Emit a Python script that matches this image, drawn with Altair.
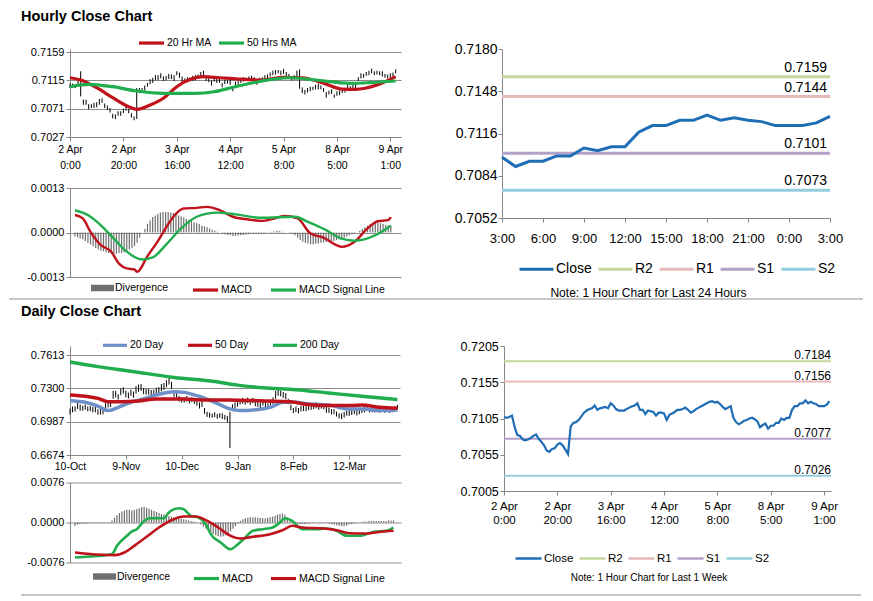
import altair as alt
import pandas as pd

FONT = "Liberation Sans"
GRID = "#8c8c8c"
AX = "#868686"
RED = "#c0121a"
GREEN = "#20ad4e"
BLUE20 = "#6c90c7"
CLOSE_BLUE = "#1f6db5"
DIV_GRAY = "#6e6e6e"
LEVEL_COLORS = ["#c3d69b", "#e6b9b8", "#b3a2c7", "#93cddd"]
FMT = "replace(format(datum.value, '.4f'), '\u2212', '-')"
RECT = "M-1,-0.28L1,-0.28L1,0.28L-1,0.28Z"

# ---------------- hourly data: 2 Apr 0:00 .. 9 Apr 3:00 ----------------
hourly_close = [
    0.7107, 0.7106, 0.7107, 0.7109, 0.7093, 0.7082, 0.7081, 0.7076, 0.7075, 0.7076,
    0.7078, 0.7081, 0.7083, 0.7077, 0.7073, 0.7068, 0.7061, 0.7059, 0.7063, 0.7064,
    0.7069, 0.7071, 0.7068, 0.7062, 0.7056, 0.7094, 0.7099, 0.7100, 0.7103, 0.7108,
    0.7113, 0.7116, 0.7118, 0.7119, 0.7123, 0.7117, 0.7119, 0.7120, 0.7121, 0.7119,
    0.7126, 0.7123, 0.7118, 0.7116, 0.7116, 0.7116, 0.7118, 0.7120, 0.7122, 0.7123,
    0.7126, 0.7117, 0.7117, 0.7111, 0.7116, 0.7115, 0.7114, 0.7109, 0.7113, 0.7113,
    0.7112, 0.7103, 0.7110, 0.7112, 0.7114, 0.7117, 0.7117, 0.7118, 0.7120, 0.7117,
    0.7113, 0.7115, 0.7118, 0.7120, 0.7122, 0.7124, 0.7126, 0.7128, 0.7129, 0.7127,
    0.7128, 0.7125, 0.7121, 0.7118, 0.7120, 0.7122, 0.7106, 0.7100, 0.7097, 0.7099,
    0.7102, 0.7103, 0.7105, 0.7106, 0.7104, 0.7101, 0.7093, 0.7096, 0.7098, 0.7091,
    0.7095, 0.7095, 0.7099, 0.7099, 0.7105, 0.7103, 0.7106, 0.7106, 0.7117, 0.7122,
    0.7122, 0.7126, 0.7126, 0.7130, 0.7126, 0.7128, 0.7126, 0.7125, 0.7122, 0.7122,
    0.7122, 0.7124, 0.7129]
hourly_hi_pips = [
    3, 4, 2, 5, 36, 3, 4, 2, 3, 4,
    3, 5, 4, 2, 3, 4, 2, 3, 4, 3,
    2, 4, 3, 2, 3, 9, 4, 3, 4, 3,
    4, 3, 5, 4, 3, 4, 3, 5, 3, 4,
    3, 4, 3, 2, 4, 3, 4, 3, 2, 5,
    4, 3, 2, 4, 3, 3, 4, 2, 3, 2,
    4, 3, 3, 2, 4, 3, 2, 3, 2, 3,
    3, 4, 2, 3, 2, 3, 4, 3, 2, 3,
    5, 3, 4, 2, 3, 8, 26, 4, 3, 4,
    3, 2, 3, 4, 3, 2, 4, 3, 3, 2,
    3, 4, 3, 2, 4, 3, 4, 5, 3, 4,
    3, 2, 4, 3, 3, 2, 3, 4, 3, 2,
    4, 3, 3]
hourly_lo_pips = [
    4, 3, 4, 3, 3, 5, 4, 6, 3, 4,
    5, 4, 3, 5, 4, 3, 5, 4, 3, 4,
    5, 3, 4, 5, 3, 39, 4, 3, 4, 3,
    4, 5, 3, 4, 5, 3, 4, 3, 4, 5,
    3, 4, 5, 3, 4, 3, 4, 5, 3, 4,
    4, 3, 5, 4, 3, 4, 3, 5, 4, 3,
    4, 5, 3, 4, 3, 4, 3, 4, 3, 4,
    5, 3, 4, 3, 4, 3, 3, 4, 3, 4,
    3, 5, 4, 3, 4, 3, 4, 5, 4, 3,
    4, 3, 4, 5, 3, 4, 5, 3, 4, 3,
    4, 3, 4, 3, 5, 4, 3, 4, 3, 4,
    3, 4, 3, 4, 3, 4, 3, 4, 3, 4,
    3, 4, 3]
hourly_tick_pos = [0, 20, 40, 60, 80, 100, 120]
hourly_tick_labels = ["2 Apr|0:00", "2 Apr|20:00", "3 Apr|16:00", "4 Apr|12:00",
                      "5 Apr|8:00", "8 Apr|5:00", "9 Apr|1:00"]

ma20h_idx = [0, 4, 10, 16, 22, 25, 30, 35, 40, 45, 50, 56, 63, 72, 80, 87, 95, 102, 107, 115, 122]
ma20h_val = [0.7119, 0.71155, 0.71036, 0.7088, 0.7074, 0.7070, 0.70767, 0.70871, 0.71051, 0.71166,
             0.71207, 0.7119, 0.7117, 0.71155, 0.71197, 0.7119, 0.71104, 0.71015, 0.7101, 0.71077, 0.71207]
ma50h_idx = [0, 7, 16, 25, 35, 47, 54, 62, 72, 82, 92, 105, 112, 122]
ma50h_val = [0.71051, 0.71088, 0.71051, 0.70984, 0.70949, 0.70949, 0.70973, 0.71051, 0.7114,
             0.7119, 0.71155, 0.71104, 0.71113, 0.7114]

macdh_idx = [0, 3, 6, 10, 14, 17, 20, 23, 24, 28, 32, 35, 38, 42, 47, 51, 56, 61, 67, 72,
             77, 81, 86, 91, 96, 101, 103, 108, 113, 117, 121, 122]
macdh_val = [0.00051, 0.00041, 0.00002, -0.00037, -0.00056, -0.00091, -0.00105, -0.00108, -0.00115,
             -0.00069, -0.00025, 0.00012, 0.00046, 0.0007, 0.00072, 0.00075, 0.00065, 0.00046,
             0.00038, 0.00034, 0.00041, 0.00048, 0.00041, -0.00003, -0.00015, -0.00037, -0.00042,
             -0.00027, 0.00012, 0.00033, 0.00036, 0.00045]
sigh_idx = [0, 5, 10, 15, 20, 26, 30, 35, 41, 47, 55, 62, 72, 85, 90, 97, 103, 108, 116, 122]
sigh_val = [0.00065, 0.00051, 0.00021, -0.00018, -0.00056, -0.00079, -0.00073, -0.00037, 0.00012,
            0.00046, 0.00058, 0.00053, 0.00043, 0.00046, 0.00031, 0.00007, -0.00018, -0.00024,
            -0.00008, 0.0002]
div_hourly = [
    -0.00012, -0.00014, -0.00017, -0.0002, -0.00025, -0.0003, -0.00035, -0.0004, -0.00045, -0.0005,
    -0.00053, -0.00055, -0.00058, -0.0006, -0.0006, -0.00062, -0.00062, -0.0006, -0.0006, -0.00058,
    -0.00055, -0.0005, -0.00045, -0.0004, -0.0003, -0.00015, 0.0, 0.0001, 0.00025, 0.00035,
    0.00045, 0.0005, 0.00055, 0.00058, 0.0006, 0.0006, 0.0006, 0.00058, 0.00057, 0.00055,
    0.0005, 0.00047, 0.00044, 0.0004, 0.00037, 0.00035, 0.0003, 0.00028, 0.00025, 0.0002,
    0.00018, 0.00015, 0.00012, 0.00008, 0.00005, 0.00002, 0.0, -0.00003, -0.00005, -0.00007,
    -0.00008, -0.0001, -0.0001, -0.00009, -0.00008, -0.00007, -0.00006, -0.00005, -0.00004, -0.00004,
    -0.00003, -0.00004, -0.00003, -0.00002, -0.00001, 0.00001, 0.00002, 0.00003, 0.00005, 0.00004,
    0.00002, 0.00001, 0.0, -0.00002, -0.00004, -0.00008, -0.00015, -0.00022, -0.00027, -0.0003,
    -0.00032, -0.00034, -0.00034, -0.00033, -0.00032, -0.0003, -0.00029, -0.00028, -0.00027, -0.00026,
    -0.00025, -0.00022, -0.0002, -0.00018, -0.00015, -0.00012, -0.00008, -0.00005, -0.00002, 0.0,
    0.00005, 0.0001, 0.00015, 0.0002, 0.00024, 0.00027, 0.00028, 0.00028, 0.00027, 0.00025,
    0.00023, 0.00021, 0.0002]

# ---------------- pivot levels ----------------
level_names = ["R2", "R1", "S1", "S2"]
levels_24h = [0.7159, 0.7144, 0.7101, 0.7073]
levels_week = [0.7184, 0.7156, 0.7077, 0.7026]
last24_tick_pos = [0, 3, 6, 9, 12, 15, 18, 21, 24]
last24_tick_labels = ["3:00", "6:00", "9:00", "12:00", "15:00", "18:00", "21:00", "0:00", "3:00"]

# ---------------- daily data: 10 Oct .. 9 Apr ----------------
daily_close = [
    0.7085, 0.7100, 0.7110, 0.7128, 0.7120, 0.7115, 0.7118, 0.7112, 0.7108, 0.7105,
    0.7100, 0.7082, 0.7075, 0.7085, 0.7120, 0.7150, 0.7160, 0.7230, 0.7245, 0.7220,
    0.7265, 0.7280, 0.7250, 0.7235, 0.7255, 0.7240, 0.7280, 0.7300, 0.7310, 0.7275,
    0.7265, 0.7270, 0.7250, 0.7260, 0.7275, 0.7280, 0.7300, 0.7320, 0.7340, 0.7375,
    0.7330, 0.7250, 0.7230, 0.7200, 0.7195, 0.7190, 0.7200, 0.7185, 0.7190, 0.7180,
    0.7165, 0.7140, 0.7150, 0.7090, 0.7060, 0.7050, 0.7045, 0.7050, 0.7040, 0.7045,
    0.7040, 0.7030, 0.7010, 0.7020, 0.7120, 0.7140, 0.7155, 0.7170, 0.7180, 0.7175,
    0.7185, 0.7170, 0.7180, 0.7160, 0.7150, 0.7145, 0.7160, 0.7150, 0.7130, 0.7160,
    0.7175, 0.7230, 0.7260, 0.7250, 0.7240, 0.7225, 0.7180, 0.7120, 0.7095, 0.7100,
    0.7090, 0.7105, 0.7115, 0.7110, 0.7125, 0.7120, 0.7130, 0.7140, 0.7120, 0.7135,
    0.7130, 0.7100, 0.7095, 0.7085, 0.7080, 0.7060, 0.7045, 0.7040, 0.7050, 0.7065,
    0.7070, 0.7075, 0.7080, 0.7070, 0.7085, 0.7090, 0.7100, 0.7110, 0.7095, 0.7100,
    0.7095, 0.7100, 0.7090, 0.7100, 0.7095, 0.7105, 0.7090, 0.7100, 0.7110, 0.7125]
daily_hi_pips = [
    25, 30, 20, 35, 28, 22, 30, 18, 25, 20,
    28, 22, 30, 26, 40, 35, 30, 45, 30, 25,
    35, 30, 28, 25, 32, 30, 40, 35, 30, 28,
    30, 25, 35, 28, 30, 32, 40, 30, 35, 45,
    30, 28, 25, 30, 22, 25, 28, 20, 25, 30,
    22, 28, 30, 25, 20, 22, 18, 25, 20, 22,
    25, 20, 30, 60, 30, 28, 32, 25, 30, 22,
    28, 25, 30, 22, 25, 20, 28, 25, 30, 35,
    40, 45, 30, 28, 25, 30, 22, 25, 20, 28,
    25, 30, 22, 28, 25, 30, 35, 28, 30, 25,
    22, 28, 25, 20, 25, 22, 20, 25, 28, 22,
    25, 20, 28, 25, 30, 22, 28, 25, 20, 22,
    25, 22, 28, 20, 25, 22, 20, 25, 22, 20]
daily_lo_pips = [
    30, 25, 28, 22, 30, 25, 20, 28, 22, 30,
    25, 30, 22, 28, 25, 30, 35, 28, 30, 25,
    30, 28, 35, 30, 25, 28, 30, 32, 35, 30,
    25, 30, 28, 32, 25, 30, 28, 35, 30, 40,
    35, 30, 28, 25, 30, 22, 25, 28, 20, 25,
    28, 30, 25, 30, 28, 25, 22, 20, 25, 22,
    28, 25, 30, 280, 25, 30, 28, 22, 25, 28,
    22, 25, 20, 28, 25, 30, 22, 28, 25, 20,
    25, 28, 30, 25, 30, 28, 30, 25, 28, 22,
    25, 22, 28, 25, 30, 22, 25, 28, 22, 25,
    28, 30, 25, 28, 22, 25, 28, 30, 25, 22,
    28, 25, 22, 25, 28, 22, 25, 20, 22, 25,
    22, 25, 20, 22, 25, 20, 22, 25, 20, 22]
daily_tick_pos = [0, 22, 44, 66, 88, 110]
daily_tick_labels = ["10-Oct", "9-Nov", "10-Dec", "9-Jan", "8-Feb", "12-Mar"]

ma20d_idx = [0, 6, 11, 15, 19, 24, 29, 34, 41, 45, 50, 57, 63, 67, 74, 79, 84, 89, 94, 102, 109, 115, 123, 129]
ma20d_val = [0.7184, 0.7169, 0.7132, 0.7091, 0.7122, 0.7169, 0.7200, 0.7237, 0.7268, 0.7262, 0.7231,
             0.7169, 0.7107, 0.7091, 0.7101, 0.7122, 0.7169, 0.7169, 0.7153, 0.7144, 0.7107, 0.7107,
             0.7091, 0.7097]
ma50d_idx = [0, 6, 11, 15, 20, 27, 34, 44, 53, 63, 74, 81, 87, 92, 102, 111, 115, 122, 129]
ma50d_val = [0.7237, 0.7225, 0.7206, 0.7175, 0.7175, 0.7181, 0.7200, 0.7200, 0.7191, 0.7191, 0.7184,
             0.7178, 0.7175, 0.7153, 0.7138, 0.7138, 0.7144, 0.7122, 0.7113]
ma200d_idx = [0, 11, 24, 41, 57, 66, 76, 89, 102, 115, 129]
ma200d_val = [0.7548, 0.7504, 0.7461, 0.7402, 0.7365, 0.7330, 0.7306, 0.7287, 0.7256, 0.7225, 0.7194]

macdd_idx = [0, 6, 11, 15, 17, 21, 23, 25, 28, 30, 36, 38, 42, 44, 47, 50, 53, 55, 59, 63,
             66, 69, 72, 76, 80, 83, 85, 88, 92, 97, 102, 106, 110, 115, 121, 126, 129]
macdd_val = [-0.00665, -0.00646, -0.0063, -0.006, -0.00443, -0.00253, -0.00171, -0.00127, 0.0003, 0.00082,
             0.00082, 0.0019, 0.00272, 0.00253, 0.00127, 0.00095, -0.00032, -0.00222, -0.0038, -0.00507,
             -0.00412, -0.00285, -0.00158, -0.00127, -0.00095, 0.0, 0.00082, 0.00032, -0.00127, -0.00127,
             -0.00114, -0.00158, -0.00253, -0.00253, -0.00177, -0.00158, -0.00095]
sigd_idx = [0, 6, 11, 16, 20, 24, 29, 34, 40, 44, 49, 53, 58, 63, 67, 72, 79, 84, 88, 92,
            101, 106, 111, 118, 124, 129]
sigd_val = [-0.0057, -0.006, -0.00614, -0.0062, -0.0057, -0.00443, -0.00272, -0.00095, 0.00063, 0.00114,
            0.00114, 0.00044, -0.00095, -0.00253, -0.00304, -0.00272, -0.00222, -0.00146, -0.00063, -0.00095,
            -0.00114, -0.00146, -0.00203, -0.00209, -0.00177, -0.00158]
div_daily = [
    -0.0006, -0.0004, -0.0003, -0.0002, -0.0002, -0.00015, -0.0001, -0.0001, -0.0001, -0.0001,
    -0.0001, -0.0001, -0.00008, -0.00005, 0.0001, 0.0004, 0.0009, 0.0014, 0.0018, 0.0021,
    0.0023, 0.0024, 0.0024, 0.0023, 0.0024, 0.0025, 0.0027, 0.0029, 0.003, 0.0028,
    0.0026, 0.0024, 0.0022, 0.002, 0.0018, 0.0016, 0.0015, 0.0013, 0.0012, 0.0011,
    0.001, 0.0009, 0.0008, 0.0007, 0.0006, 0.0005, 0.0004, 0.0003, 0.0002, 0.0001,
    0.0, -0.0004, -0.0008, -0.0012, -0.0016, -0.0019, -0.0022, -0.0024, -0.0026, -0.0027,
    -0.0026, -0.0024, -0.0021, -0.0017, -0.0012, -0.0007, -0.0002, 0.0003, 0.0006, 0.0008,
    0.0009, 0.001, 0.001, 0.001, 0.0009, 0.0009, 0.0008, 0.0008, 0.0009, 0.001,
    0.0011, 0.0013, 0.0015, 0.0016, 0.0017, 0.0015, 0.001, 0.0005, 0.0002, -0.0001,
    -0.0002, -0.0003, -0.0003, -0.0003, -0.0002, -0.0002, -0.0001, -0.0001, 0.0, 0.0001,
    0.0001, 0.0, -0.0001, -0.0002, -0.0003, -0.0004, -0.0005, -0.0006, -0.0007, -0.0007,
    -0.0006, -0.0004, -0.0003, -0.0002, -0.0001, 0.0, 0.0001, 0.0002, 0.0002, 0.0003,
    0.0003, 0.0003, 0.0003, 0.0003, 0.0003, 0.0003, 0.0003, 0.0004, 0.0004, 0.0004]

assert len(hourly_close) == len(hourly_hi_pips) == len(hourly_lo_pips) == len(div_hourly)
assert len(daily_close) == len(daily_hi_pips) == len(daily_lo_pips) == len(div_daily)
assert len(ma20h_idx) == len(ma20h_val) and len(ma50h_idx) == len(ma50h_val)
assert len(macdh_idx) == len(macdh_val) and len(sigh_idx) == len(sigh_val)
assert len(ma20d_idx) == len(ma20d_val) and len(ma50d_idx) == len(ma50d_val) and len(ma200d_idx) == len(ma200d_val)
assert len(macdd_idx) == len(macdd_val) and len(sigd_idx) == len(sigd_val)


# ---------------- helpers ----------------
def lab_expr(pos, labels):
    s = ""
    for p, l in zip(pos, labels):
        parts = l.split("|")
        if len(parts) == 1:
            v = "'" + parts[0] + "'"
        else:
            v = "[" + ",".join("'" + t + "'" for t in parts) + "]"
        s += "datum.value == %s ? %s : " % (p, v)
    return s + "''"


def y_axis(values, fs, pad, tick=4, grid=False, extent=None):
    kw = dict(values=values, title=None, grid=grid, gridColor=GRID, gridWidth=1, gridOpacity=1,
              domain=True, domainColor=AX, domainWidth=1, ticks=True, tickColor=AX, tickSize=tick,
              tickWidth=1, labelFont=FONT, labelFontSize=fs, labelColor="#000000", labelPadding=pad,
              labelExpr=FMT, labelOverlap=False, labelFlush=False)
    if extent is not None:
        kw["minExtent"] = extent
        kw["maxExtent"] = extent
    return alt.Axis(**kw)


def x_axis(values, labels, fs, pad, line_h, tick=4, **extra):
    kw = dict(values=values, labelExpr=lab_expr(values, labels), title=None, grid=False,
              domainColor=AX, domainWidth=1, tickColor=AX, tickSize=tick, tickWidth=1,
              labelFont=FONT, labelFontSize=fs, labelColor="#000000", labelPadding=pad,
              labelLineHeight=line_h, labelOverlap=False, labelFlush=False)
    kw.update(extra)
    return alt.Axis(**kw)


def line_legend(x, y, sym_w, fs, colpad, sw=3.2, loff=1):
    return alt.Legend(orient="none", legendX=x, legendY=y, direction="horizontal", title=None,
                      symbolType="stroke", symbolSize=sym_w * sym_w, symbolStrokeWidth=sw,
                      labelFont=FONT, labelFontSize=fs, labelColor="#000000", labelOffset=loff,
                      columnPadding=colpad, padding=0, rowPadding=0)


def rect_legend(x, y, fs):
    return alt.Legend(orient="none", legendX=x, legendY=y, direction="horizontal", title=None,
                      symbolType=RECT, symbolSize=529, symbolStrokeWidth=0,
                      labelFont=FONT, labelFontSize=fs, labelColor="#000000", labelOffset=1,
                      padding=0)


def long_df(pairs):
    rows = []
    for name, idx, vals in pairs:
        for i, v in zip(idx, vals):
            rows.append({"i": i, "v": v, "s": name})
    return pd.DataFrame(rows)


# ---------------- data frames ----------------
hr_bars = pd.DataFrame({
    "i": list(range(len(hourly_close))),
    "lo": [round(c - l / 10000, 5) for c, l in zip(hourly_close, hourly_lo_pips)],
    "hi": [round(c + h / 10000, 5) for c, h in zip(hourly_close, hourly_hi_pips)],
})
hr_ma = long_df([("20 Hr MA", ma20h_idx, ma20h_val), ("50 Hrs MA", ma50h_idx, ma50h_val)])
hr_macd = long_df([("MACD", macdh_idx, macdh_val), ("MACD Signal Line", sigh_idx, sigh_val)])
hr_div = pd.DataFrame({"i": list(range(len(div_hourly))), "v": div_hourly, "s": "Divergence"})

last24 = hourly_close[-25:]
d24 = pd.DataFrame({"i": list(range(25)), "v": last24, "s": "Close"})
WEEK_XMAX = 122.6
lv24 = pd.DataFrame({"s": level_names, "v": levels_24h, "lab": ["%.4f" % v for v in levels_24h], "i": 24})
dwk = pd.DataFrame({"i": list(range(len(hourly_close))), "v": hourly_close, "s": "Close"})
lvwk = pd.DataFrame({"s": level_names, "v": levels_week, "lab": ["%.4f" % v for v in levels_week], "i": WEEK_XMAX})

d_bars = pd.DataFrame({
    "i": list(range(len(daily_close))),
    "lo": [round(c - l / 10000, 5) for c, l in zip(daily_close, daily_lo_pips)],
    "hi": [round(c + h / 10000, 5) for c, h in zip(daily_close, daily_hi_pips)],
})
d_ma = long_df([("20 Day", ma20d_idx, ma20d_val), ("50 Day", ma50d_idx, ma50d_val),
                ("200 Day", ma200d_idx, ma200d_val)])
d_macd = long_df([("MACD", macdd_idx, macdd_val), ("MACD Signal Line", sigd_idx, sigd_val)])
d_div = pd.DataFrame({"i": list(range(len(div_daily))), "v": div_daily, "s": "Divergence"})

# ---------------- hourly price chart ----------------
hr_xs = alt.Scale(domain=[0, 124], nice=False, zero=False)
p1_ys = alt.Scale(domain=[0.7027, 0.7159 + 3 / 6439], nice=False, zero=False)
p1_xax = x_axis(hourly_tick_pos, hourly_tick_labels, 10.5, 3.5, 15.5)
p1_yax = y_axis([0.7027, 0.7071, 0.7115, 0.7159], 11, 2, grid=True, extent=49)

price1 = alt.layer(
    alt.Chart(hr_bars).mark_rule(color="black", strokeWidth=1).encode(
        x=alt.X("i:Q", scale=hr_xs, axis=p1_xax),
        y=alt.Y("lo:Q", scale=p1_ys, axis=p1_yax), y2="hi:Q"),
    alt.Chart(hr_ma).mark_line(strokeWidth=3.2, interpolate="monotone").encode(
        x=alt.X("i:Q", scale=hr_xs, axis=p1_xax),
        y=alt.Y("v:Q", scale=p1_ys, axis=p1_yax),
        color=alt.Color("s:N", scale=alt.Scale(domain=["20 Hr MA", "50 Hrs MA"], range=[RED, GREEN]),
                        legend=line_legend(67, -20.5, 25, 10.5, 0))),
).properties(width=331, height=88)

m1_ys = alt.Scale(domain=[-0.0013, 0.0013], nice=False, zero=False)
m1_yax = y_axis([-0.0013, 0.0, 0.0013], 11, 2, grid=True, extent=49)
macd1 = alt.layer(
    alt.Chart(hr_div).mark_bar(size=1.2).encode(
        x=alt.X("i:Q", scale=hr_xs, axis=None),
        y=alt.Y("v:Q", scale=m1_ys, axis=m1_yax),
        color=alt.Color("s:N", scale=alt.Scale(domain=["Divergence"], range=[DIV_GRAY]),
                        legend=rect_legend(21, 88.5, 10.5))),
    alt.Chart(hr_macd).mark_line(strokeWidth=2.4, interpolate="monotone").encode(
        x=alt.X("i:Q", scale=hr_xs, axis=None),
        y=alt.Y("v:Q", scale=m1_ys, axis=m1_yax),
        color=alt.Color("s:N", scale=alt.Scale(domain=["MACD", "MACD Signal Line"], range=[RED, GREEN]),
                        legend=line_legend(121, 87.5, 25, 10.5, 12))),
).resolve_scale(color="independent").properties(width=331, height=89)

# ---------------- last 24 hours chart ----------------
r1_xs = alt.Scale(domain=[0, 24], nice=False, zero=False)
r1_ys = alt.Scale(domain=[0.7052, 0.7180], nice=False, zero=False)
r1_xax = x_axis(last24_tick_pos, last24_tick_labels, 13, 10, 15,
                title="Note: 1 Hour Chart for Last 24 Hours", titleX=146, titleY=69,
                titleBaseline="top", titleFont=FONT, titleFontSize=12, titleFontWeight="normal",
                titleColor="#000000", titleAlign="center")
r1_yax = y_axis([0.7052, 0.7084, 0.7116, 0.7148, 0.7180], 14, 1)
r1_col = alt.Scale(domain=["Close"] + level_names, range=[CLOSE_BLUE] + LEVEL_COLORS)
r1_leg = line_legend(16, 201.5, 34, 14, 0, sw=3)
right1 = alt.layer(
    alt.Chart(lv24).mark_rule(strokeWidth=3).encode(
        y=alt.Y("v:Q", scale=r1_ys, axis=r1_yax),
        color=alt.Color("s:N", scale=r1_col, legend=r1_leg)),
    alt.Chart(d24).mark_line(strokeWidth=3).encode(
        x=alt.X("i:Q", scale=r1_xs, axis=r1_xax),
        y=alt.Y("v:Q", scale=r1_ys, axis=r1_yax),
        color=alt.Color("s:N", scale=r1_col, legend=r1_leg)),
    alt.Chart(lv24).mark_text(align="right", baseline="alphabetic", dx=-3, dy=-5, font=FONT,
                              fontSize=14, color="#000000").encode(
        x=alt.X("i:Q", scale=r1_xs, axis=r1_xax),
        y=alt.Y("v:Q", scale=r1_ys, axis=r1_yax), text="lab:N"),
).properties(width=328, height=169)

# ---------------- daily price chart ----------------
d_xs = alt.Scale(domain=[0, 130], nice=False, zero=False)
p2_ys = alt.Scale(domain=[0.6674, 0.7613 + 9 * 0.0939 / 100], nice=False, zero=False)
p2_xax = x_axis(daily_tick_pos, daily_tick_labels, 10.5, 2.5, 13)
p2_yax = y_axis([0.6674, 0.6987, 0.7300, 0.7613], 11, 2, grid=True, extent=49)
price2 = alt.layer(
    alt.Chart(d_bars).mark_rule(color="black", strokeWidth=1).encode(
        x=alt.X("i:Q", scale=d_xs, axis=p2_xax),
        y=alt.Y("lo:Q", scale=p2_ys, axis=p2_yax), y2="hi:Q"),
    alt.Chart(d_ma).mark_line(strokeWidth=3.5, interpolate="monotone").encode(
        x=alt.X("i:Q", scale=d_xs, axis=p2_xax),
        y=alt.Y("v:Q", scale=p2_ys, axis=p2_yax),
        color=alt.Color("s:N", scale=alt.Scale(domain=["20 Day", "50 Day", "200 Day"],
                                               range=[BLUE20, RED, GREEN]),
                        legend=line_legend(31, -15, 24, 10.5, 17))),
).properties(width=330, height=109)

m2_ys = alt.Scale(domain=[-0.0076, 0.0076], nice=False, zero=False)
m2_yax = y_axis([-0.0076, 0.0, 0.0076], 11, 2, grid=True, extent=49)
macd2 = alt.layer(
    alt.Chart(d_div).mark_bar(size=1.2).encode(
        x=alt.X("i:Q", scale=d_xs, axis=None),
        y=alt.Y("v:Q", scale=m2_ys, axis=m2_yax),
        color=alt.Color("s:N", scale=alt.Scale(domain=["Divergence"], range=[DIV_GRAY]),
                        legend=rect_legend(23, 82.5, 10.5))),
    alt.Chart(d_macd).mark_line(strokeWidth=2.6, interpolate="monotone").encode(
        x=alt.X("i:Q", scale=d_xs, axis=None),
        y=alt.Y("v:Q", scale=m2_ys, axis=m2_yax),
        color=alt.Color("s:N", scale=alt.Scale(domain=["MACD", "MACD Signal Line"], range=[GREEN, RED]),
                        legend=line_legend(122, 81.5, 25, 10.5, 11))),
).resolve_scale(color="independent").properties(width=331, height=80)

# ---------------- last week chart ----------------
r2_xs = alt.Scale(domain=[0, WEEK_XMAX], nice=False, zero=False)
r2_ys = alt.Scale(domain=[0.7005, 0.7205], nice=False, zero=False)
r2_xax = x_axis(hourly_tick_pos, hourly_tick_labels, 11.5, 5, 14,
                title="Note: 1 Hour Chart for Last 1 Week", titleX=144.5, titleY=81,
                titleBaseline="top", titleFont=FONT, titleFontSize=10, titleFontWeight="normal",
                titleColor="#000000", titleAlign="center")
r2_yax = y_axis([0.7005, 0.7055, 0.7105, 0.7155, 0.7205], 12.5, 1.7)
r2_col = alt.Scale(domain=["Close"] + level_names, range=[CLOSE_BLUE] + LEVEL_COLORS)
r2_leg = line_legend(10, 198, 26, 11.5, 0, sw=2.5)
right2 = alt.layer(
    alt.Chart(lvwk).mark_rule(strokeWidth=2).encode(
        y=alt.Y("v:Q", scale=r2_ys, axis=r2_yax),
        color=alt.Color("s:N", scale=r2_col, legend=r2_leg)),
    alt.Chart(dwk).mark_line(strokeWidth=2.2).encode(
        x=alt.X("i:Q", scale=r2_xs, axis=r2_xax),
        y=alt.Y("v:Q", scale=r2_ys, axis=r2_yax),
        color=alt.Color("s:N", scale=r2_col, legend=r2_leg)),
    alt.Chart(lvwk).mark_text(align="right", baseline="alphabetic", dx=0, dy=-2, font=FONT,
                              fontSize=12, color="#000000").encode(
        x=alt.X("i:Q", scale=r2_xs, axis=r2_xax),
        y=alt.Y("v:Q", scale=r2_ys, axis=r2_yax), text="lab:N"),
).properties(width=327, height=145)

# ---------------- separators & layout ----------------
sep_df = pd.DataFrame({"k": [0]})
sep1 = alt.Chart(sep_df).mark_rule(color="#8f8f8f", strokeWidth=1.2).encode(
    x=alt.value(-61), x2=alt.value(793), y=alt.value(0)).properties(width=1, height=5)
sep2 = alt.Chart(sep_df).mark_rule(color="#8f8f8f", strokeWidth=1.2).encode(
    x=alt.value(-49), x2=alt.value(791), y=alt.value(10)).properties(width=1, height=10)


def sec_title(text, off):
    return alt.TitleParams(text, anchor="start", frame="bounds", fontSize=14.5, font=FONT,
                           fontWeight="bold", color="#000000", offset=off)


left1 = alt.vconcat(price1, macd1, spacing=11).resolve_scale(color="independent")
left2 = alt.vconcat(price2, macd2, spacing=4.5).resolve_scale(color="independent")
row1 = alt.hconcat(left1, right1, spacing=51,
                   title=sec_title("Hourly Close Chart", 4.5)).resolve_scale(color="independent")
row2 = alt.hconcat(left2, right2, spacing=55,
                   title=sec_title("Daily Close Chart", 11.5)).resolve_scale(color="independent")

chart = alt.vconcat(row1, sep1, row2, sep2, spacing=0).resolve_scale(
    color="independent"
).properties(
    padding={"left": 0, "top": 0, "right": 0, "bottom": 0}
).configure_view(stroke=None)

chart.save("out.html", embed_options={"renderer": "svg", "actions": False})
